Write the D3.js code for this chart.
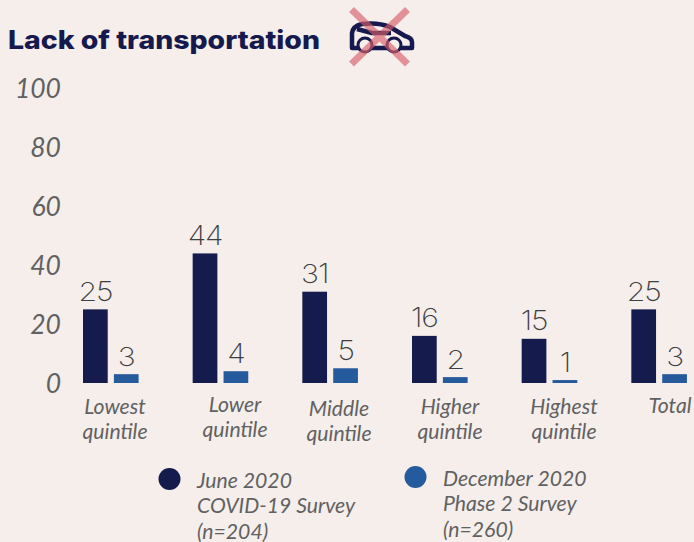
<!DOCTYPE html>
<html><head><meta charset="utf-8">
<script src="https://cdn.jsdelivr.net/npm/d3@7"></script>
<style>html,body{margin:0;padding:0;background:#f5eeeb;overflow:hidden}svg{display:block}</style>
</head><body><svg id="c" width="694" height="542"></svg>
<script>
const categories=["Lowest|quintile","Lower|quintile","Middle|quintile","Higher|quintile","Highest|quintile","Total"];
const june=[25,44,31,16,15,25];
const december=[3,4,5,2,1,3];
const yTicks=[0,20,40,60,80,100];
const seriesColors=["#151b4d","#255a9c"];
const legendJune=["June 2020","COVID-19 Survey","(n=204)"];
const legendDec=["December 2020","Phase 2 Survey","(n=260)"];
const labelOffsets=[[115,0],[235,-2],[339,2],[450,0],[564,0],[670,-1]];

const svg=d3.select("#c");
const y=d3.scaleLinear().domain([0,100]).range([383,88.5]);
const x=d3.scaleBand().domain(categories).range([73,731]);
const inner=d3.scaleBand().domain([0,1]).range([10,65.6]).paddingInner(0.2).paddingOuter(0);
const grey="#616161";

svg.append("text").attr("x",8).attr("y",49).text("Lack of transportation")
  .attr("font-family","Inter").attr("font-weight",800).attr("font-size",25.5).attr("fill","#15194d").attr("textLength",312).attr("lengthAdjust","spacingAndGlyphs");

const axis=d3.axisLeft(y).tickValues(yTicks).tickSize(0).tickPadding(0);
const ga=svg.append("g").attr("transform","translate(61,0)").call(axis);
ga.select(".domain").remove();
ga.selectAll("text").attr("font-family","Lato").attr("font-style","italic").attr("font-size",26.5).attr("fill",grey).attr("text-anchor","end").attr("dy","0.35em");

const groups=svg.selectAll("g.grp").data(categories).join("g").attr("class","grp")
  .attr("transform",d=>`translate(${x(d)},0)`);
[june,december].forEach((vals,s)=>{
  groups.append("rect").attr("x",inner(s)).attr("width",inner.bandwidth())
    .attr("y",(d,i)=>y(vals[i])).attr("height",(d,i)=>y(0)-y(vals[i])).attr("fill",seriesColors[s]);
  groups.append("text")
    .attr("transform",(d,i)=>`translate(${inner(s)+inner.bandwidth()/2},${y(vals[i])-8.5}) scale(1.14,1)`)
    .attr("text-anchor","middle").text((d,i)=>vals[i]).attr("letter-spacing",-1)
    .attr("font-family","Inter").attr("font-weight",250).attr("font-size",26.5).attr("fill","#3f3f3f");
});

categories.forEach((c,i)=>{
  const [cx,dy]=labelOffsets[i];
  c.split("|").forEach((l,j)=>{
    svg.append("text").attr("x",cx).attr("y",414+dy+j*25).attr("text-anchor","middle").text(l)
      .attr("font-family","Lato").attr("font-style","italic").attr("font-size",21.2).attr("fill",grey);
  });
});

[[170,479,197,legendJune,0],[416,477,443,legendDec,1]].forEach(([cx,cy,tx,lines,s])=>{
  svg.append("circle").attr("cx",cx-.5).attr("cy",cy).attr("r",11).attr("fill",seriesColors[s]);
  lines.forEach((l,j)=>svg.append("text").attr("x",tx).attr("y",cy+8.5+j*25.7).text(l)
    .attr("font-family","Lato").attr("font-style","italic").attr("font-size",21.2).attr("fill",grey));
});

const ic=svg.append("g");
ic.append("path").attr("d","M352 48 L352 33 Q353 26 362 24 Q378 22 390 27 L405 36 Q412 38 412 42 L412 48 Z M357 29 L372 33 L391 33")
  .attr("fill","none").attr("stroke","#15194d").attr("stroke-width",4.5).attr("stroke-linejoin","round");
ic.selectAll("circle").data([[365,45],[394,45]]).join("circle").attr("cx",d=>d[0]).attr("cy",d=>d[1]).attr("r",7)
  .attr("fill","#f5eeeb").attr("stroke","#15194d").attr("stroke-width",3);
svg.append("path").attr("d","M351.5 9.5 L407.5 64 M407.5 9.5 L351.5 64").attr("stroke","#d8606c").attr("stroke-opacity",.65).attr("stroke-width",7).attr("fill","none");
</script></body></html>
